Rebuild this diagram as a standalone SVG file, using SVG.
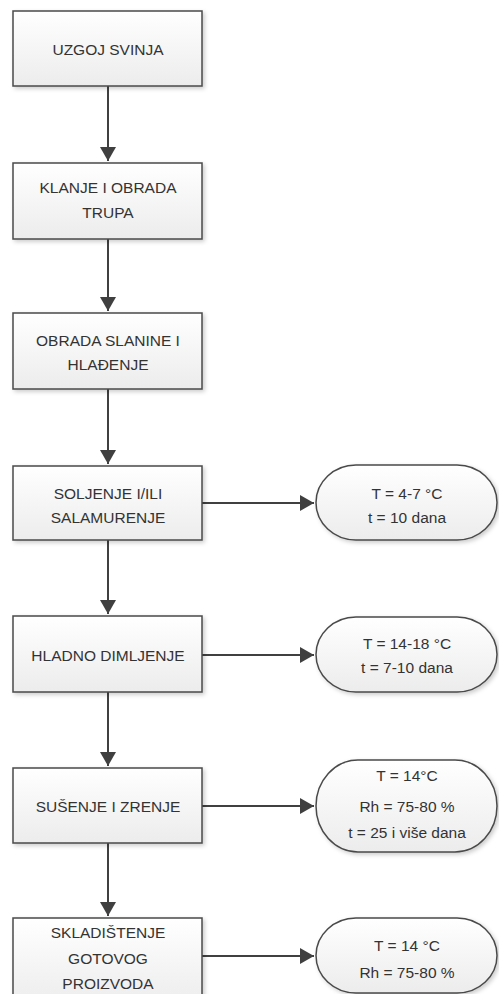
<svg xmlns="http://www.w3.org/2000/svg" width="499" height="994" viewBox="0 0 499 994">
<style>
.box{fill:url(#g);stroke:#4a4a4a;stroke-width:1.5;filter:url(#sh)}
.t{font-family:"Liberation Sans",Arial,sans-serif;font-size:15.5px;fill:#333;text-anchor:middle}
.c{stroke:#404040;stroke-width:2;fill:none;marker-end:url(#ah)}
</style>
<defs>
<linearGradient id="g" x1="0" y1="0" x2="0" y2="1"><stop offset="0" stop-color="#ffffff"/><stop offset="1" stop-color="#ececec"/></linearGradient>
<filter id="sh" x="-10%" y="-10%" width="125%" height="130%"><feDropShadow dx="2" dy="2" stdDeviation="2" flood-color="#000" flood-opacity="0.2"/></filter>
<marker id="ah" markerWidth="8" markerHeight="8" refX="7" refY="4" orient="auto" markerUnits="strokeWidth"><path d="M0,0 L7,4 L0,8 Z" fill="#404040"/></marker>
</defs>
<g id="connectors">
<line class="c" x1="108" y1="86" x2="108" y2="161"/>
<line class="c" x1="108" y1="239" x2="108" y2="311"/>
<line class="c" x1="108" y1="389" x2="108" y2="464"/>
<line class="c" x1="108" y1="540" x2="108" y2="614"/>
<line class="c" x1="108" y1="692" x2="108" y2="766"/>
<line class="c" x1="108" y1="843" x2="108" y2="916"/>
<line class="c" x1="202" y1="503" x2="314" y2="503"/>
<line class="c" x1="202" y1="655" x2="314" y2="655"/>
<line class="c" x1="202" y1="806" x2="314" y2="806"/>
<line class="c" x1="202" y1="956" x2="314" y2="956"/>
</g>
<g id="n1"><rect class="box" x="13" y="11" width="189" height="75"/><text class="t" x="108" y="55">UZGOJ SVINJA</text></g>
<g id="n2"><rect class="box" x="13" y="163" width="189" height="76"/><text class="t" x="108" y="193">KLANJE I OBRADA</text><text class="t" x="108" y="218">TRUPA</text></g>
<g id="n3"><rect class="box" x="13" y="313" width="189" height="76"/><text class="t" x="108" y="346">OBRADA SLANINE I</text><text class="t" x="108" y="370">HLAĐENJE</text></g>
<g id="n4"><rect class="box" x="13" y="466" width="189" height="74"/><text class="t" x="108" y="499">SOLJENJE I/ILI</text><text class="t" x="108" y="523">SALAMURENJE</text></g>
<g id="n5"><rect class="box" x="13" y="616" width="189" height="76"/><text class="t" x="108" y="661">HLADNO DIMLJENJE</text></g>
<g id="n6"><rect class="box" x="13" y="768" width="189" height="75"/><text class="t" x="108" y="812">SUŠENJE I ZRENJE</text></g>
<g id="n7"><rect class="box" x="13" y="918" width="189" height="90"/><text class="t" x="108" y="938">SKLADIŠTENJE</text><text class="t" x="108" y="964">GOTOVOG</text><text class="t" x="108" y="989">PROIZVODA</text></g>
<g id="e1"><rect class="box" x="316" y="465" width="181" height="75" rx="40" ry="37.5"/><text class="t" x="407" y="499">T = 4-7 °C</text><text class="t" x="407" y="523">t = 10 dana</text></g>
<g id="e2"><rect class="box" x="316" y="617" width="181" height="75" rx="40" ry="37.5"/><text class="t" x="407" y="649">T = 14-18 °C</text><text class="t" x="407" y="673">t = 7-10 dana</text></g>
<g id="e3"><rect class="box" x="316" y="760" width="181" height="92" rx="42" ry="46"/><text class="t" x="407" y="781">T = 14°C</text><text class="t" x="407" y="812">Rh = 75-80 %</text><text class="t" x="407" y="838">t = 25 i više dana</text></g>
<g id="e4"><rect class="box" x="316" y="918" width="181" height="75" rx="40" ry="37.5"/><text class="t" x="407" y="951">T = 14 °C</text><text class="t" x="407" y="978">Rh = 75-80 %</text></g>
</svg>
